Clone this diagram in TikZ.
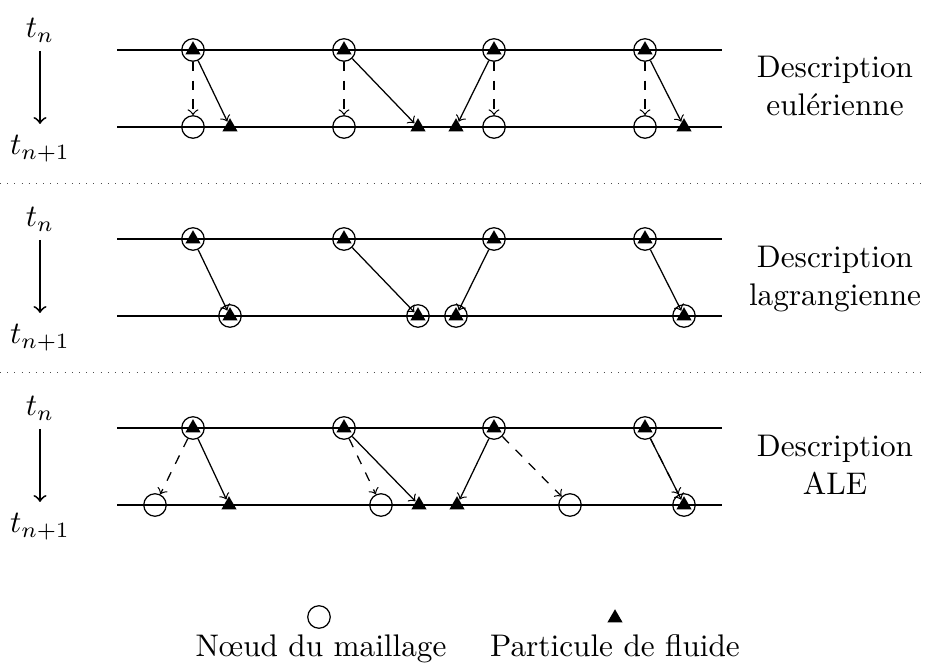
\documentclass[tikz,border=0pt]{standalone}
\usetikzlibrary{shapes.geometric}
\begin{document}
\begin{tikzpicture}[x=0.32pt,y=-0.32pt,
  mesh/.style={circle, draw, inner sep=0pt, minimum size=7.2pt},
  part/.style={regular polygon, regular polygon sides=3, fill=black, draw=none, inner sep=0pt, minimum size=5.6pt},
  track/.style={line width=0.4pt},
  move/.style={->},
  meshmove/.style={->, dashed},
  sepline/.style={dotted, line width=0.3pt, black!70},
  timearrow/.style={->, line width=0.6pt},
  desc/.style={align=center},
  lbl/.style={anchor=base}]
\useasboundingbox (0,0) rectangle (927,670);

% ---------- separators ----------
\coordinate (s1a) at (0,183);   \coordinate (s1b) at (927,183);
\coordinate (s2a) at (0,372);   \coordinate (s2b) at (927,372);
\draw[sepline] (s1a) -- (s1b);
\draw[sepline] (s2a) -- (s2b);

% ---------- time axes, tracks and upper nodes ----------
\foreach \k/\dy in {1/0,2/189,3/378}{
  \node[lbl] (tn\k)  at (40,38+\dy)  {$t_n$};
  \node[lbl] (tnn\k) at (40,155+\dy) {$t_{n+1}$};
  \coordinate (ta\k) at (40,51+\dy);
  \coordinate (tb\k) at (40,124+\dy);
  \draw[timearrow] (ta\k) -- (tb\k);
  \coordinate (lT\k) at (117,50+\dy);  \coordinate (rT\k) at (722,50+\dy);
  \coordinate (lB\k) at (117,127+\dy); \coordinate (rB\k) at (722,127+\dy);
  \draw[track] (lT\k) -- (rT\k);
  \draw[track] (lB\k) -- (rB\k);
  \foreach \x [count=\i] in {193,344,494,645}{
    \node[mesh] (T\k-\i) at (\x,50+\dy) {};
    \node[part] (TP\k-\i) at (\x,50+\dy) {};
  }
}

% ---------- Eulerian description ----------
\foreach \x [count=\i] in {193,344,494,645}{
  \node[mesh] (B1-\i) at (\x,127) {};
}
\foreach \x [count=\i] in {230,418,456,684}{
  \node[part] (BP1-\i) at (\x,127) {};
}
\foreach \i in {1,...,4}{
  \draw[meshmove] (T1-\i) -- (B1-\i);
  \draw[move] (T1-\i) -- (BP1-\i);
}

% ---------- Lagrangian description ----------
\foreach \x [count=\i] in {230,418,456,684}{
  \node[mesh] (B2-\i) at (\x,316) {};
  \node[part] (BP2-\i) at (\x,316) {};
}
\foreach \i in {1,...,4}{
  \draw[move] (T2-\i) -- (BP2-\i);
}

% ---------- ALE description ----------
\foreach \x [count=\i] in {155,381,570,684}{
  \node[mesh] (B3-\i) at (\x,505) {};
}
\foreach \x [count=\i] in {229,419,457,684}{
  \node[part] (BP3-\i) at (\x,505) {};
}
\foreach \i in {1,...,4}{
  \draw[meshmove] (T3-\i) -- (B3-\i);
  \draw[move] (T3-\i) -- (BP3-\i);
}

% ---------- descriptions ----------
\node[desc] (d1) at (835,86)  {Description\\eulérienne};
\node[desc] (d2) at (835,279) {Description\\lagrangienne};
\node[desc] (d3) at (835,465) {Description\\ALE};

% ---------- legend ----------
\node[mesh] (legM) at (319,617) {};
\node[part] (legP) at (615,618) {};
\node[lbl] (legMt) at (321,657) {Nœud du maillage};
\node[lbl] (legPt) at (615,657) {Particule de fluide};
\end{tikzpicture}
\end{document}
